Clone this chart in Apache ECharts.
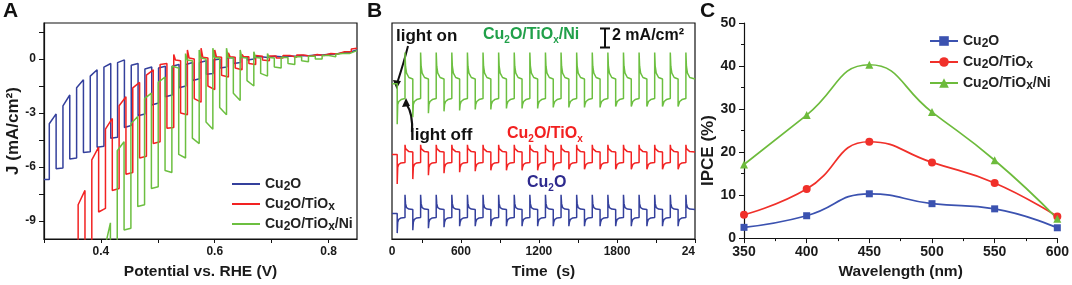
<!DOCTYPE html>
<html><head><meta charset="utf-8">
<script src="https://cdn.jsdelivr.net/npm/echarts/dist/echarts.min.js"></script>
<style>html,body{margin:0;padding:0;background:#fff}#c{width:1072px;height:285px}</style>
</head><body><div id="c"></div>
<script>
// ---------- Panel A: chopped-light LSV (J vs potential) ----------
const aNames = ['Cu2O', 'Cu2O/TiOx', 'Cu2O/TiOx/Ni'];
const aHalf = 0.012; // half chopping period in V
// Cu2O
const aCu2OEdge0 = 0.3093;
const aCu2OLight = [[-6.7,-6.7],[-6.1,-6.05],[-5.55,-5.5],[-5.2,-5.15],[-4.9,-4.85],[-4.4,-4.35],[-3.8,-3.7],[-3.15,-3.05],[-2.55,-2.45],[-2.1,-2.0],[-1.6,-1.5],[-1.2,-1.1],[-0.85,-0.8],[-0.5,-0.45],[-0.25,-0.2],[-0.05,0.0],[0.05,0.08],[0.1,0.12],[0.15,0.15],[0.18,0.18],[0.2,0.22],[0.25,0.28],[0.35,0.38],[0.5,0.5]];
const aCu2ODark = [[-3.6,-3.05],[-2.6,-2.0],[-1.6,-1.15],[-0.95,-0.6],[-0.45,-0.25],[-0.2,-0.05],[-0.35,-0.25],[-0.55,-0.45],[-0.5,-0.4],[-0.4,-0.3],[-0.3,-0.2],[-0.2,-0.1],[-0.05,0.0],[0.05,0.08],[0.1,0.1],[0.12,0.12],[0.15,0.15],[0.17,0.17],[0.2,0.2],[0.22,0.22],[0.27,0.27],[0.33,0.35],[0.45,0.5]];
// Cu2O/TiOx
const aTiEdge0 = 0.360;
const aTiLight = [[-12,-12],[-10.5,-10.5],[-8.5,-8.3],[-7.3,-7.2],[-6.4,-6.3],[-5.5,-5.4],[-4.7,-4.6],[-3.85,-3.8],[-3.0,-3.1],[-2.2,-2.4],[-1.5,-1.7],[-0.9,-1.0],[-0.5,-0.6],[-0.25,-0.3],[-0.05,-0.1],[0.05,0.05],[0.1,0.1],[0.15,0.15],[0.2,0.2],[0.25,0.28],[0.38,0.4],[0.55,0.55]];
const aTiDark = [[-8.1,-7.3],[-5.6,-4.9],[-3.9,-3.3],[-2.6,-2.1],[-1.6,-1.3],[-0.9,-0.6],[-0.3,-0.25],[0.25,-0.05,-0.1],[0.5,0.05,0.0],[0.6,0.1,0.05],[0.5,0.12,0.1],[0.35,0.12,0.1],[0.25,0.12,0.12],[0.2,0.15,0.15],[0.17,0.17],[0.2,0.2],[0.22,0.22],[0.25,0.25],[0.3,0.3],[0.38,0.4],[0.55,0.6]];
// Cu2O/TiOx/Ni
const aNiEdge0 = 0.4047;
const aNiLight = [[-12,-12],[-11,-11],[-9.5,-9.4],[-8.2,-8.1],[-7.2,-7.1],[-6.2,-6.3],[-5.3,-5.5],[-4.4,-4.7],[-3.5,-3.9],[-2.7,-3.1],[-1.9,-2.3],[-1.2,-1.5],[-0.8,-0.95],[-0.45,-0.5],[-0.25,-0.3],[-0.1,-0.15],[0.0,0.0],[0.1,0.12],[0.25,0.3],[0.45,0.45]];
const aNiDark = [[-10.8,-9.1],[-5.1,-4.6],[-3.6,-3.2],[-2.2,-1.9],[-1.3,-1.0],[-0.4,-0.5],[0.3,-0.05,-0.1],[0.5,0.05,0.0],[0.6,0.08,0.05],[0.6,0.08,0.05],[0.5,0.08,0.05],[0.4,0.08,0.05],[0.3,0.08,0.05],[0.1,0.08],[0.12,0.12],[0.15,0.15],[0.2,0.2],[0.27,0.3],[0.4,0.45]];

// ---------- Panel B: chopped chronoamperometry ----------
const bStart = 70, bEnd = 2400;
const bLightOn  = [110,230,350,470,590,710,830,950,1070,1190,1310,1430,1550,1670,1790,1910,2030,2150,2270];
const bLightOff = [170,290,410,530,650,770,890,1010,1130,1250,1370,1490,1610,1730,1850,1970,2090,2210,2330];
const bRelaxT = [4, 12, 30];
// traces stacked with offsets (mA/cm^2 units, scale bar = 2)
const bNiStart = 15.8;
const bNiOnSpike  = [11.7,12.4,12.8,13.0,13.1,13.2,13.2,13.3,13.3,13.3,13.4,13.4,13.4,13.4,13.5,13.5,13.5,13.5,13.5];
const bNiOnRelax  = [13.7,14.0,14.2];
const bNiOnPlat   = 14.3;
const bNiOffSpike = [19.0,19.0,19.0,19.0,19.0,19.0,19.0,19.0,19.0,19.0,19.0,19.0,19.0,19.0,19.0,19.0,19.0,19.0,19.0];
const bNiOffRelax = [17.6,16.9,16.45];
const bNiOffPlat  = 16.3;
const bTiStart = 8.6;
const bTiOnSpike  = [5.6,6.1,6.5,6.7,6.8,6.9,7.0,7.0,7.0,7.0,7.0,7.1,7.1,7.1,7.1,7.1,7.1,7.1,7.1];
const bTiOnRelax  = [7.3,7.6,7.75];
const bTiOnPlat   = 7.8;
const bTiOffSpike = [9.6,9.6,9.6,9.6,9.6,9.6,9.6,9.6,9.6,9.6,9.6,9.6,9.6,9.6,9.6,9.6,9.6,9.6,9.6];
const bTiOffRelax = [9.2,9.0,8.9];
const bTiOffPlat  = 8.85;
const bCuStart = 2.6;
const bCuOnSpike  = [0.6,0.9,1.1,1.2,1.3,1.3,1.3,1.3,1.3,1.3,1.3,1.3,1.3,1.3,1.3,1.3,1.3,1.3,1.3];
const bCuOnRelax  = [1.7,2.0,2.15];
const bCuOnPlat   = 2.2;
const bCuOffSpike = [4.5,4.5,4.5,4.5,4.5,4.5,4.5,4.5,4.5,4.5,4.5,4.5,4.5,4.5,4.5,4.5,4.5,4.5,4.5];
const bCuOffRelax = [3.6,3.2,3.05];
const bCuOffPlat  = 3.0;

// ---------- Panel C: IPCE ----------
const cWavelength = [350, 400, 450, 500, 550, 600];
const cCu2O  = [2.5, 5.2, 10.3, 8.0, 6.8, 2.4];
const cTiOx  = [5.4, 11.4, 22.4, 17.6, 12.8, 5.0];
const cNi    = [17.1, 28.6, 40.3, 29.3, 18.1, 4.5];

// ---------- builders ----------
function chopped(edge0, half, light, dark, xmin, xmax) {
  const segs = [];
  for (let i = 0; i < light.length; i++) { segs.push(light[i]); if (i < dark.length) segs.push(dark[i]); }
  const pts = [];
  for (let j = 0; j < segs.length; j++) {
    const xs = j === 0 ? xmin : edge0 + (j - 1) * half;
    if (xs >= xmax) break;
    const xe = Math.min(edge0 + j * half, xmax);
    const v = segs[j];
    if (v.length === 2) { pts.push([xs, v[0]], [xe, v[1]]); }
    else { pts.push([xs, v[0]], [xs + (xe - xs) * 0.25, v[1]], [xe, v[2]]); }
  }
  return pts;
}
function pulses(start, end, onT, offT, startLevel, onSpike, onRelax, onPlat, offSpike, offRelax, offPlat, relaxT) {
  const ev = [];
  onT.forEach((t, i) => ev.push({ t, on: true, i }));
  offT.forEach((t, i) => ev.push({ t, on: false, i }));
  ev.sort((a, b) => a.t - b.t);
  const pts = [[start, startLevel]];
  let level = startLevel;
  for (const e of ev) {
    if (e.t > end) break;
    pts.push([e.t, level]);
    if (e.on) { pts.push([e.t, onSpike[e.i]]); relaxT.forEach((dt, j) => pts.push([e.t + dt, onRelax[j]])); level = onPlat; }
    else { pts.push([e.t, offSpike[e.i]]); relaxT.forEach((dt, j) => pts.push([e.t + dt, offRelax[j]])); level = offPlat; }
  }
  pts.push([end, level]);
  return pts;
}
// chemical formula -> rich text with subscripts
function chem(name) {
  return name.replace(/\u200b/g, '').split(/(2|x)/).filter(s => s).map(s => (s === '2' || s === 'x') ? '{s|' + s + '}' : '{n|' + s + '}').join('');
}

const FONT = 'Arial, "Liberation Sans", Helvetica, sans-serif';
const BLUE = '#34409C', RED = '#F22222', GREEN = '#6CBF40';
const CBLUE = '#3B52B0', CRED = '#F0302A', CGREEN = '#6DBB3C';
const axisTxt = { color: '#1a1a1a', fontFamily: FONT, fontWeight: 'bold', fontSize: 12 };
const nameTxt = { color: '#1a1a1a', fontFamily: FONT, fontWeight: 'bold', fontSize: 15.5 };
const blackLine = { lineStyle: { color: '#111', width: 1.2 } };
const legRich = {
  n: { fontFamily: FONT, fontWeight: 'bold', fontSize: 14, color: '#222', lineHeight: 18 },
  s: { fontFamily: FONT, fontWeight: 'bold', fontSize: 12, color: '#222', lineHeight: 11, verticalAlign: 'bottom' }
};
function richB(color) {
  return {
    n: { fontFamily: FONT, fontWeight: 'bold', fontSize: 16, fill: color, lineHeight: 20 },
    s: { fontFamily: FONT, fontWeight: 'bold', fontSize: 10, fill: color, lineHeight: 10, verticalAlign: 'bottom' }
  };
}

const chart = echarts.init(document.getElementById('c'), null, { renderer: 'canvas' });
const option = {
  animation: false,
  backgroundColor: '#fff',
  textStyle: { fontFamily: FONT },
  grid: [
    { left: 44, top: 23, width: 313, height: 220, show: true, borderColor: '#111', borderWidth: 1.2 },
    { left: 392, top: 23, width: 303, height: 220, show: true, borderColor: '#111', borderWidth: 1.2 },
    { left: 744, top: 23, width: 314, height: 220 }
  ],
  xAxis: [
    { type: 'value', gridIndex: 0, min: 0.3, max: 0.85, splitLine: { show: false },
      axisLine: Object.assign({ show: true, onZero: false }, blackLine),
      axisTick: { show: true, length: 4, lineStyle: { color: '#111' }, customValues: [0.3, 0.4, 0.5, 0.6, 0.7, 0.8] },
      axisLabel: Object.assign({ margin: 7, customValues: [0.4, 0.6, 0.8], formatter: v => v.toFixed(1) }, axisTxt),
      name: 'Potential vs. RHE (V)', nameLocation: 'middle', nameGap: 25, nameTextStyle: nameTxt },
    { type: 'value', gridIndex: 1, min: bStart, max: bEnd, splitLine: { show: false },
      axisLine: Object.assign({ show: true, onZero: false }, blackLine),
      axisTick: { show: true, length: 4, lineStyle: { color: '#111' }, customValues: [300, 600, 900, 1200, 1500, 1800, 2100, 2400] },
      axisLabel: Object.assign({ margin: 7, customValues: [bStart, 600, 1200, 1800, 2400], alignMaxLabel: 'right',
        formatter: v => (v === bStart ? '0' : (v === 2400 ? '24' : String(v))) }, axisTxt),
      name: 'Time  (s)', nameLocation: 'middle', nameGap: 25, nameTextStyle: nameTxt },
    { type: 'value', gridIndex: 2, min: 350, max: 600, interval: 50, splitLine: { show: false },
      axisLine: Object.assign({ show: true, onZero: false }, blackLine),
      axisTick: { show: true, length: 5, lineStyle: { color: '#111' } },
      minorTick: { show: true, splitNumber: 2, length: 3, lineStyle: { color: '#111' } },
      axisLabel: Object.assign({}, axisTxt, { fontSize: 14, margin: 7 }),
      name: 'Wavelength (nm)', nameLocation: 'middle', nameGap: 25, nameTextStyle: nameTxt }
  ],
  yAxis: [
    { type: 'value', gridIndex: 0, min: -10, max: 2, splitLine: { show: false },
      axisLine: Object.assign({ show: true, onZero: false }, blackLine),
      axisTick: { show: true, length: 5, lineStyle: { color: '#111' }, customValues: [-9, -7.5, -6, -4.5, -3, -1.5, 0, 1.5] },
      axisLabel: Object.assign({ margin: 8, customValues: [-9, -6, -3, 0] }, axisTxt),
      name: 'J (mA/cm\u00B2)', nameLocation: 'middle', nameGap: 20, nameTextStyle: Object.assign({}, nameTxt, { fontSize: 17 }) },
    { type: 'value', gridIndex: 1, min: 0, max: 22, show: false },
    { type: 'value', gridIndex: 2, min: 0, max: 50, interval: 10, splitLine: { show: false },
      axisLine: Object.assign({ show: true, onZero: false }, blackLine),
      axisTick: { show: true, length: 5, lineStyle: { color: '#111' } },
      minorTick: { show: true, splitNumber: 2, length: 3, lineStyle: { color: '#111' } },
      axisLabel: Object.assign({}, axisTxt, { fontSize: 14, margin: 8 }),
      name: 'IPCE (%)', nameLocation: 'middle', nameGap: 23,
      nameTextStyle: Object.assign({}, nameTxt, { fontSize: 17, padding: [0, 40, 0, 0] }) }
  ],
  legend: [
    { data: aNames, orient: 'vertical', left: 227, top: 172, itemWidth: 28, itemHeight: 2, itemGap: 4, icon: 'rect',
      formatter: chem, textStyle: { rich: legRich } },
    { data: aNames.map(n => n + '\u200b'), orient: 'vertical', left: 924, top: 29, itemWidth: 28, itemHeight: 12, itemGap: 5,
      formatter: chem, textStyle: { rich: legRich } }
  ],
  series: [
    { name: aNames[0], type: 'line', xAxisIndex: 0, yAxisIndex: 0, symbol: 'none', lineStyle: { color: BLUE, width: 1.5 }, itemStyle: { color: BLUE },
      data: chopped(aCu2OEdge0, aHalf, aCu2OLight, aCu2ODark, 0.3, 0.85) },
    { name: aNames[1], type: 'line', xAxisIndex: 0, yAxisIndex: 0, symbol: 'none', lineStyle: { color: RED, width: 1.5 }, itemStyle: { color: RED },
      data: chopped(aTiEdge0, aHalf, aTiLight, aTiDark, 0.3, 0.85) },
    { name: aNames[2], type: 'line', xAxisIndex: 0, yAxisIndex: 0, symbol: 'none', lineStyle: { color: GREEN, width: 1.5 }, itemStyle: { color: GREEN },
      data: chopped(aNiEdge0, aHalf, aNiLight, aNiDark, 0.3, 0.85) },

    { name: 'B-Cu2O', type: 'line', xAxisIndex: 1, yAxisIndex: 1, symbol: 'none', lineStyle: { color: BLUE, width: 1.5 },
      data: pulses(bStart, bEnd, bLightOn, bLightOff, bCuStart, bCuOnSpike, bCuOnRelax, bCuOnPlat, bCuOffSpike, bCuOffRelax, bCuOffPlat, bRelaxT) },
    { name: 'B-TiOx', type: 'line', xAxisIndex: 1, yAxisIndex: 1, symbol: 'none', lineStyle: { color: RED, width: 1.5 },
      data: pulses(bStart, bEnd, bLightOn, bLightOff, bTiStart, bTiOnSpike, bTiOnRelax, bTiOnPlat, bTiOffSpike, bTiOffRelax, bTiOffPlat, bRelaxT) },
    { name: 'B-Ni', type: 'line', xAxisIndex: 1, yAxisIndex: 1, symbol: 'none', lineStyle: { color: GREEN, width: 1.5 },
      data: pulses(bStart, bEnd, bLightOn, bLightOff, bNiStart, bNiOnSpike, bNiOnRelax, bNiOnPlat, bNiOffSpike, bNiOffRelax, bNiOffPlat, bRelaxT) },

    { name: aNames[0] + '\u200b', type: 'line', xAxisIndex: 2, yAxisIndex: 2, smooth: 0.5, symbol: 'rect', symbolSize: 7,
      lineStyle: { color: CBLUE, width: 1.7 }, itemStyle: { color: CBLUE }, data: cWavelength.map((w, i) => [w, cCu2O[i]]) },
    { name: aNames[1] + '\u200b', type: 'line', xAxisIndex: 2, yAxisIndex: 2, smooth: 0.5, symbol: 'circle', symbolSize: 8,
      lineStyle: { color: CRED, width: 1.7 }, itemStyle: { color: CRED }, data: cWavelength.map((w, i) => [w, cTiOx[i]]) },
    { name: aNames[2] + '\u200b', type: 'line', xAxisIndex: 2, yAxisIndex: 2, smooth: 0.5, symbol: 'triangle', symbolSize: 8,
      lineStyle: { color: CGREEN, width: 1.7 }, itemStyle: { color: CGREEN }, data: cWavelength.map((w, i) => [w, cNi[i]]) }
  ],
  graphic: [
    { type: 'text', left: 3, top: 1, style: { text: 'A', font: 'bold 21px ' + FONT, fill: '#111' } },
    { type: 'text', left: 367, top: 1, style: { text: 'B', font: 'bold 21px ' + FONT, fill: '#111' } },
    { type: 'text', left: 700, top: 1, style: { text: 'C', font: 'bold 21px ' + FONT, fill: '#111' } },
    { type: 'text', left: 396, top: 28, style: { text: 'light on', font: 'bold 17px ' + FONT, fill: '#111' } },
    { type: 'text', left: 410, top: 127, style: { text: 'light off', font: 'bold 17px ' + FONT, fill: '#111' } },
    { type: 'text', left: 483, top: 27, style: { text: chem('Cu2O/TiOx/Ni'), rich: richB('#21A04A') } },
    { type: 'text', left: 507, top: 126, style: { text: chem('Cu2O/TiOx'), rich: richB('#F22020') } },
    { type: 'text', left: 527, top: 175, style: { text: chem('Cu2O'), rich: richB('#2E2A8E') } },
    { type: 'text', left: 612, top: 28, style: { text: '2 mA/cm\u00B2', font: 'bold 16px ' + FONT, fill: '#111' } },
    { type: 'line', shape: { x1: 605, y1: 28.5, x2: 605, y2: 47.5 }, style: { stroke: '#111', lineWidth: 2 } },
    { type: 'line', shape: { x1: 600, y1: 28.5, x2: 610, y2: 28.5 }, style: { stroke: '#111', lineWidth: 2 } },
    { type: 'line', shape: { x1: 600, y1: 47.5, x2: 610, y2: 47.5 }, style: { stroke: '#111', lineWidth: 2 } },
    { type: 'bezierCurve', shape: { x1: 408, y1: 46, x2: 397.5, y2: 82, cpx1: 404, cpy1: 62 }, style: { stroke: '#111', lineWidth: 2, fill: null } },
    { type: 'polygon', shape: { points: [[396.5, 89], [393, 80], [401, 81]] }, style: { fill: '#111' } },
    { type: 'bezierCurve', shape: { x1: 412, y1: 132, x2: 407, y2: 105, cpx1: 413, cpy1: 114 }, style: { stroke: '#111', lineWidth: 2.2, fill: null } },
    { type: 'polygon', shape: { points: [[406, 98], [402, 107], [410, 106]] }, style: { fill: '#111' } }
  ]
};
chart.setOption(option);
</script></body></html>
